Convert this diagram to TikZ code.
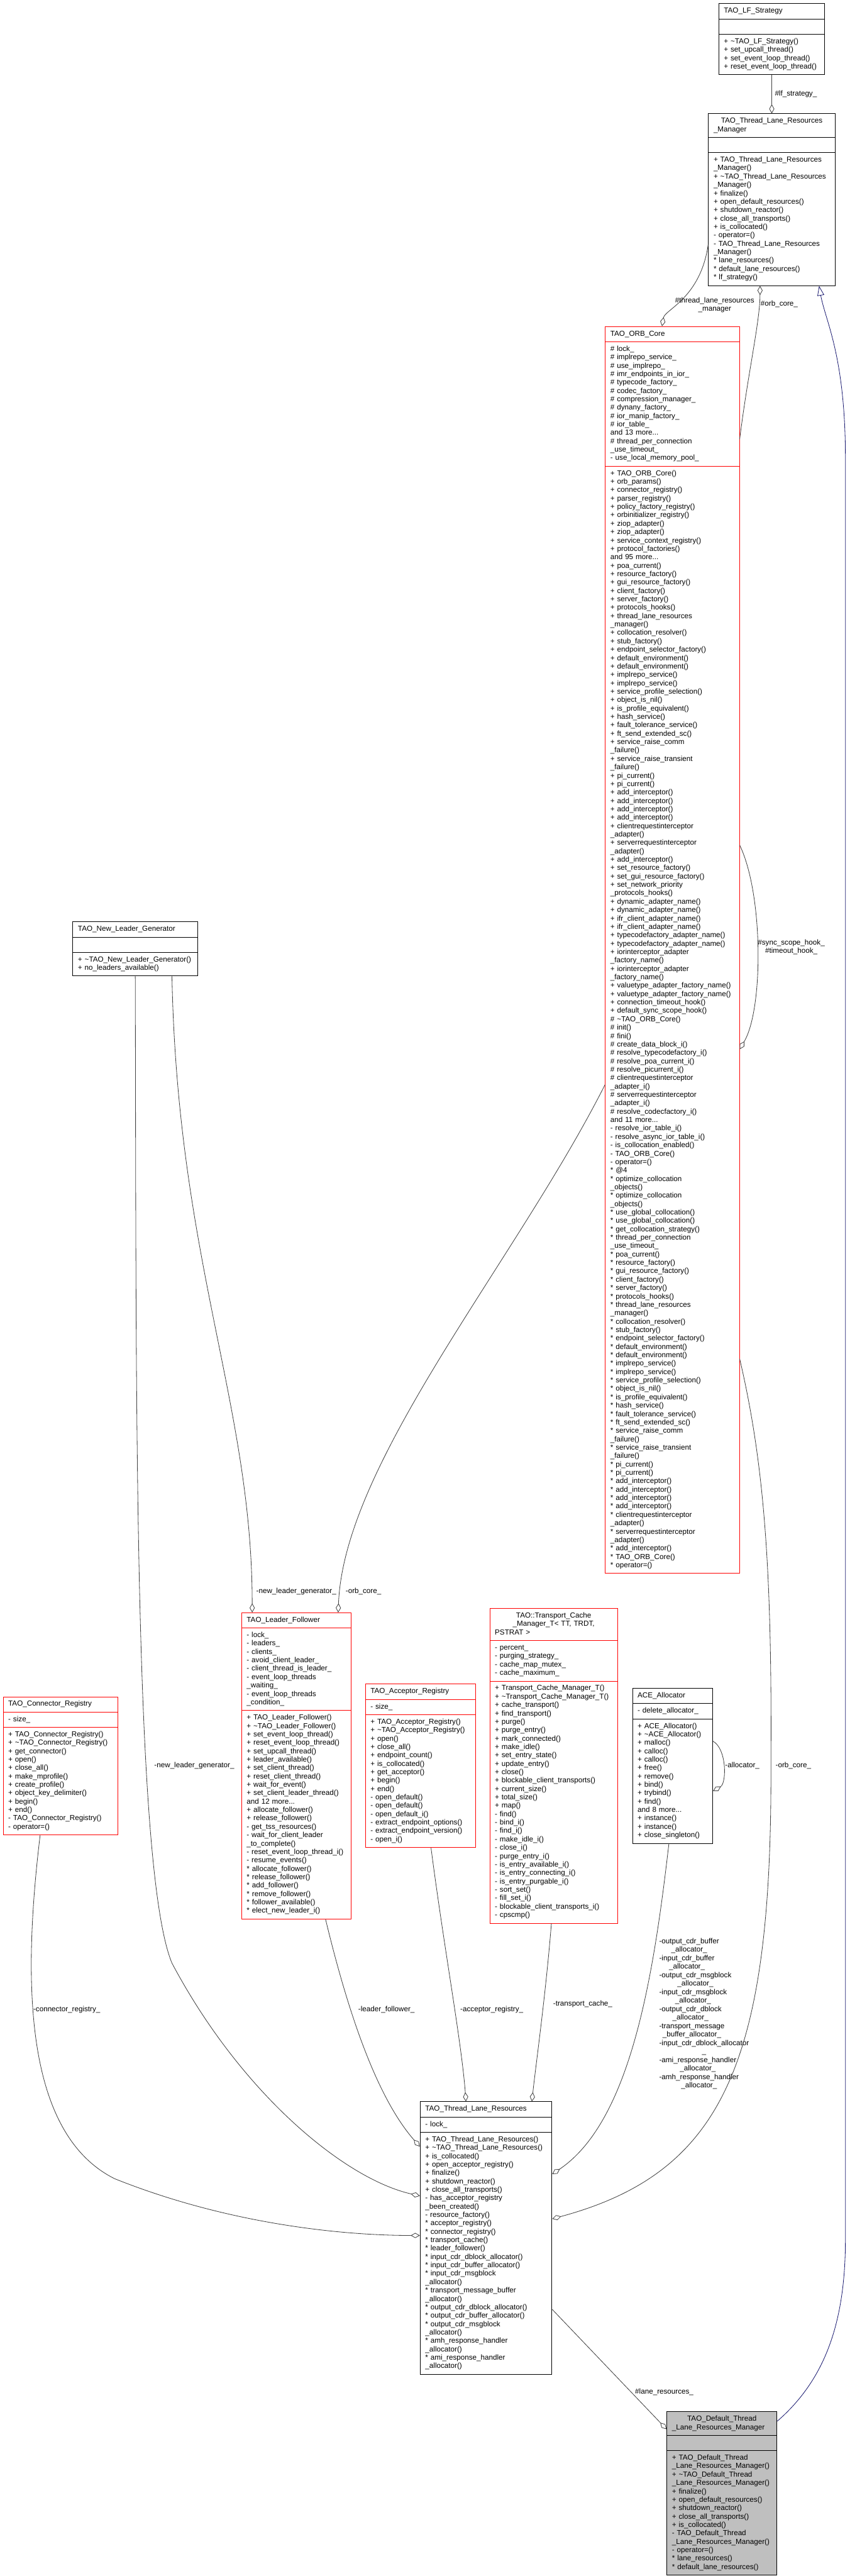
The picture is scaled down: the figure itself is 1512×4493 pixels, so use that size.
\documentclass[tikz,border=0pt]{standalone}
\usepackage{fontspec}
\setmainfont{Liberation Sans}
\usetikzlibrary{arrows.meta, positioning, shapes.multipart}

\definecolor{edgegray}{HTML}{404040}
\definecolor{inherit}{HTML}{191970}
\definecolor{basefill}{HTML}{BFBFBF}
\definecolor{incomplete}{HTML}{FF0000}
\newcommand{\umlfont}{\fontsize{12.8}{14.65}\selectfont}

\begin{document}
\begin{tikzpicture}[
    x=1pt, y=-1pt,
    cls/.style={rectangle split, rectangle split parts=3, draw=black, fill=white,
        line width=1pt, inner xsep=9pt, inner ysep=5.5pt, text width=#1,
        align=left, font=\umlfont},
    redcls/.style={cls=#1, draw=incomplete},
    basecls/.style={cls=#1, fill=basefill},
    member/.style={draw=edgegray, line width=0.9pt,
        -{Diamond[length=16pt, width=9pt, fill=white]}},
    isa/.style={draw=inherit, line width=0.9pt,
        -{Triangle[length=17pt, width=12pt, fill=white]}},
    lbl/.style={font=\umlfont, inner sep=0pt, align=center}
]
\useasboundingbox[fill=white] (0,0) rectangle (1512,4493);

% Top of the graph
\node[cls=167pt, anchor=north] (lfs) at (1346.5,6) {\centering\strut TAO\_LF\_Strategy\strut
    \nodepart{two}\strut
    \nodepart{three}\strut + \textasciitilde TAO\_LF\_Strategy()\\
    + set\_upcall\_thread()\\
    + set\_event\_loop\_thread()\\
    + reset\_event\_loop\_thread()\strut};

\node[cls=203pt, below=67pt of lfs] (tlrm) {\centering\strut TAO\_Thread\_Lane\_Resources\hspace*{19pt}\\\_Manager\strut
    \nodepart{two}\strut
    \nodepart{three}\strut + TAO\_Thread\_Lane\_Resources\\
    \_Manager()\\
    + \textasciitilde TAO\_Thread\_Lane\_Resources\\
    \_Manager()\\
    + finalize()\\
    + open\_default\_resources()\\
    + shutdown\_reactor()\\
    + close\_all\_transports()\\
    + is\_collocated()\\
    - operator=()\\
    - TAO\_Thread\_Lane\_Resources\\
    \_Manager()\\{}
    * lane\_resources()\\{}
    * default\_lane\_resources()\\{}
    * lf\_strategy()\strut};

\node[redcls=216pt, anchor=north] (orb) at (1173,569) {\centering\strut TAO\_ORB\_Core\strut
    \nodepart{two}\strut \# lock\_\\
    \# implrepo\_service\_\\
    \# use\_implrepo\_\\
    \# imr\_endpoints\_in\_ior\_\\
    \# typecode\_factory\_\\
    \# codec\_factory\_\\
    \# compression\_manager\_\\
    \# dynany\_factory\_\\
    \# ior\_manip\_factory\_\\
    \# ior\_table\_\\
    and 13 more...\\
    \# thread\_per\_connection\\
    \_use\_timeout\_\\
    - use\_local\_memory\_pool\_\strut
    \nodepart{three}\strut + TAO\_ORB\_Core()\\
    + orb\_params()\\
    + connector\_registry()\\
    + parser\_registry()\\
    + policy\_factory\_registry()\\
    + orbinitializer\_registry()\\
    + ziop\_adapter()\\
    + ziop\_adapter()\\
    + service\_context\_registry()\\
    + protocol\_factories()\\
    and 95 more...\\
    + poa\_current()\\
    + resource\_factory()\\
    + gui\_resource\_factory()\\
    + client\_factory()\\
    + server\_factory()\\
    + protocols\_hooks()\\
    + thread\_lane\_resources\\
    \_manager()\\
    + collocation\_resolver()\\
    + stub\_factory()\\
    + endpoint\_selector\_factory()\\
    + default\_environment()\\
    + default\_environment()\\
    + implrepo\_service()\\
    + implrepo\_service()\\
    + service\_profile\_selection()\\
    + object\_is\_nil()\\
    + is\_profile\_equivalent()\\
    + hash\_service()\\
    + fault\_tolerance\_service()\\
    + ft\_send\_extended\_sc()\\
    + service\_raise\_comm\\
    \_failure()\\
    + service\_raise\_transient\\
    \_failure()\\
    + pi\_current()\\
    + pi\_current()\\
    + add\_interceptor()\\
    + add\_interceptor()\\
    + add\_interceptor()\\
    + add\_interceptor()\\
    + clientrequestinterceptor\\
    \_adapter()\\
    + serverrequestinterceptor\\
    \_adapter()\\
    + add\_interceptor()\\
    + set\_resource\_factory()\\
    + set\_gui\_resource\_factory()\\
    + set\_network\_priority\\
    \_protocols\_hooks()\\
    + dynamic\_adapter\_name()\\
    + dynamic\_adapter\_name()\\
    + ifr\_client\_adapter\_name()\\
    + ifr\_client\_adapter\_name()\\
    + typecodefactory\_adapter\_name()\\
    + typecodefactory\_adapter\_name()\\
    + iorinterceptor\_adapter\\
    \_factory\_name()\\
    + iorinterceptor\_adapter\\
    \_factory\_name()\\
    + valuetype\_adapter\_factory\_name()\\
    + valuetype\_adapter\_factory\_name()\\
    + connection\_timeout\_hook()\\
    + default\_sync\_scope\_hook()\\
    \# \textasciitilde TAO\_ORB\_Core()\\
    \# init()\\
    \# fini()\\
    \# create\_data\_block\_i()\\
    \# resolve\_typecodefactory\_i()\\
    \# resolve\_poa\_current\_i()\\
    \# resolve\_picurrent\_i()\\
    \# clientrequestinterceptor\\
    \_adapter\_i()\\
    \# serverrequestinterceptor\\
    \_adapter\_i()\\
    \# resolve\_codecfactory\_i()\\
    and 11 more...\\
    - resolve\_ior\_table\_i()\\
    - resolve\_async\_ior\_table\_i()\\
    - is\_collocation\_enabled()\\
    - TAO\_ORB\_Core()\\
    - operator=()\\{}
    * @4\\{}
    * optimize\_collocation\\
    \_objects()\\{}
    * optimize\_collocation\\
    \_objects()\\{}
    * use\_global\_collocation()\\{}
    * use\_global\_collocation()\\{}
    * get\_collocation\_strategy()\\{}
    * thread\_per\_connection\\
    \_use\_timeout\_\\{}
    * poa\_current()\\{}
    * resource\_factory()\\{}
    * gui\_resource\_factory()\\{}
    * client\_factory()\\{}
    * server\_factory()\\{}
    * protocols\_hooks()\\{}
    * thread\_lane\_resources\\
    \_manager()\\{}
    * collocation\_resolver()\\{}
    * stub\_factory()\\{}
    * endpoint\_selector\_factory()\\{}
    * default\_environment()\\{}
    * default\_environment()\\{}
    * implrepo\_service()\\{}
    * implrepo\_service()\\{}
    * service\_profile\_selection()\\{}
    * object\_is\_nil()\\{}
    * is\_profile\_equivalent()\\{}
    * hash\_service()\\{}
    * fault\_tolerance\_service()\\{}
    * ft\_send\_extended\_sc()\\{}
    * service\_raise\_comm\\
    \_failure()\\{}
    * service\_raise\_transient\\
    \_failure()\\{}
    * pi\_current()\\{}
    * pi\_current()\\{}
    * add\_interceptor()\\{}
    * add\_interceptor()\\{}
    * add\_interceptor()\\{}
    * add\_interceptor()\\{}
    * clientrequestinterceptor\\
    \_adapter()\\{}
    * serverrequestinterceptor\\
    \_adapter()\\{}
    * add\_interceptor()\\{}
    * TAO\_ORB\_Core()\\{}
    * operator=()\strut};

% same rank as the ORB core, centred on its middle
\node[cls=200pt] (nlg) at (236,1655) {\centering\strut TAO\_New\_Leader\_Generator\strut
    \nodepart{two}\strut
    \nodepart{three}\strut + \textasciitilde TAO\_New\_Leader\_Generator()\\
    + no\_leaders\_available()\strut};

% Middle row, centred on one line
\node[redcls=182pt, anchor=west] (conn) at (5,3080) {\centering\strut TAO\_Connector\_Registry\strut
    \nodepart{two}\strut - size\_\strut
    \nodepart{three}\strut + TAO\_Connector\_Registry()\\
    + \textasciitilde TAO\_Connector\_Registry()\\
    + get\_connector()\\
    + open()\\
    + close\_all()\\
    + make\_mprofile()\\
    + create\_profile()\\
    + object\_key\_delimiter()\\
    + begin()\\
    + end()\\
    - TAO\_Connector\_Registry()\\
    - operator=()\strut};

\node[redcls=173pt, anchor=west] (lf) at (421,3080) {\centering\strut TAO\_Leader\_Follower\strut
    \nodepart{two}\strut - lock\_\\
    - leaders\_\\
    - clients\_\\
    - avoid\_client\_leader\_\\
    - client\_thread\_is\_leader\_\\
    - event\_loop\_threads\\
    \_waiting\_\\
    - event\_loop\_threads\\
    \_condition\_\strut
    \nodepart{three}\strut + TAO\_Leader\_Follower()\\
    + \textasciitilde TAO\_Leader\_Follower()\\
    + set\_event\_loop\_thread()\\
    + reset\_event\_loop\_thread()\\
    + set\_upcall\_thread()\\
    + leader\_available()\\
    + set\_client\_thread()\\
    + reset\_client\_thread()\\
    + wait\_for\_event()\\
    + set\_client\_leader\_thread()\\
    and 12 more...\\
    + allocate\_follower()\\
    + release\_follower()\\
    - get\_tss\_resources()\\
    - wait\_for\_client\_leader\\
    \_to\_complete()\\
    - reset\_event\_loop\_thread\_i()\\
    - resume\_events()\\{}
    * allocate\_follower()\\{}
    * release\_follower()\\{}
    * add\_follower()\\{}
    * remove\_follower()\\{}
    * follower\_available()\\{}
    * elect\_new\_leader\_i()\strut};

\node[redcls=174pt, right=24pt of lf] (acc) {\centering\strut TAO\_Acceptor\_Registry\strut
    \nodepart{two}\strut - size\_\strut
    \nodepart{three}\strut + TAO\_Acceptor\_Registry()\\
    + \textasciitilde TAO\_Acceptor\_Registry()\\
    + open()\\
    + close\_all()\\
    + endpoint\_count()\\
    + is\_collocated()\\
    + get\_acceptor()\\
    + begin()\\
    + end()\\
    - open\_default()\\
    - open\_default()\\
    - open\_default\_i()\\
    - extract\_endpoint\_options()\\
    - extract\_endpoint\_version()\\
    - open\_i()\strut};

\node[redcls=205pt, right=24pt of acc] (tcm) {\centering\strut TAO::Transport\_Cache\hspace*{62pt}\\\_Manager\_T\textless{} TT, TRDT,\hspace*{50pt}\\PSTRAT \textgreater\strut
    \nodepart{two}\strut - percent\_\\
    - purging\_strategy\_\\
    - cache\_map\_mutex\_\\
    - cache\_maximum\_\strut
    \nodepart{three}\strut + Transport\_Cache\_Manager\_T()\\
    + \textasciitilde Transport\_Cache\_Manager\_T()\\
    + cache\_transport()\\
    + find\_transport()\\
    + purge()\\
    + purge\_entry()\\
    + mark\_connected()\\
    + make\_idle()\\
    + set\_entry\_state()\\
    + update\_entry()\\
    + close()\\
    + blockable\_client\_transports()\\
    + current\_size()\\
    + total\_size()\\
    + map()\\
    - find()\\
    - bind\_i()\\
    - find\_i()\\
    - make\_idle\_i()\\
    - close\_i()\\
    - purge\_entry\_i()\\
    - is\_entry\_available\_i()\\
    - is\_entry\_connecting\_i()\\
    - is\_entry\_purgable\_i()\\
    - sort\_set()\\
    - fill\_set\_i()\\
    - blockable\_client\_transports\_i()\\
    - cpscmp()\strut};

\node[cls=122pt, right=25pt of tcm] (ace) {\centering\strut ACE\_Allocator\strut
    \nodepart{two}\strut - delete\_allocator\_\strut
    \nodepart{three}\strut + ACE\_Allocator()\\
    + \textasciitilde ACE\_Allocator()\\
    + malloc()\\
    + calloc()\\
    + calloc()\\
    + free()\\
    + remove()\\
    + bind()\\
    + trybind()\\
    + find()\\
    and 8 more...\\
    + instance()\\
    + instance()\\
    + close\_singleton()\strut};

% Bottom of the graph
\node[cls=212pt] (tlr) at (848,3903.5) {\centering\strut TAO\_Thread\_Lane\_Resources\strut
    \nodepart{two}\strut - lock\_\strut
    \nodepart{three}\strut + TAO\_Thread\_Lane\_Resources()\\
    + \textasciitilde TAO\_Thread\_Lane\_Resources()\\
    + is\_collocated()\\
    + open\_acceptor\_registry()\\
    + finalize()\\
    + shutdown\_reactor()\\
    + close\_all\_transports()\\
    - has\_acceptor\_registry\\
    \_been\_created()\\
    - resource\_factory()\\{}
    * acceptor\_registry()\\{}
    * connector\_registry()\\{}
    * transport\_cache()\\{}
    * leader\_follower()\\{}
    * input\_cdr\_dblock\_allocator()\\{}
    * input\_cdr\_buffer\_allocator()\\{}
    * input\_cdr\_msgblock\\
    \_allocator()\\{}
    * transport\_message\_buffer\\
    \_allocator()\\{}
    * output\_cdr\_dblock\_allocator()\\{}
    * output\_cdr\_buffer\_allocator()\\{}
    * output\_cdr\_msgblock\\
    \_allocator()\\{}
    * amh\_response\_handler\\
    \_allocator()\\{}
    * ami\_response\_handler\\
    \_allocator()\strut};

\node[basecls=174pt, anchor=north west] (dtlrm) at (1163,4206) {\centering\strut TAO\_Default\_Thread\hspace*{47pt}\\\_Lane\_Resources\_Manager\strut
    \nodepart{two}\strut
    \nodepart{three}\strut + TAO\_Default\_Thread\\
    \_Lane\_Resources\_Manager()\\
    + \textasciitilde TAO\_Default\_Thread\\
    \_Lane\_Resources\_Manager()\\
    + finalize()\\
    + open\_default\_resources()\\
    + shutdown\_reactor()\\
    + close\_all\_transports()\\
    + is\_collocated()\\
    - TAO\_Default\_Thread\\
    \_Lane\_Resources\_Manager()\\
    - operator=()\\{}
    * lane\_resources()\\{}
    * default\_lane\_resources()\strut};

% Members between the upper classes
\draw[member] (lfs) -- node[lbl, right=5pt] {\#lf\_strategy\_} (tlrm);
\draw[member] (tlrm.west |- 0,427) .. controls (1222,520) and (1160,540) .. (orb.north -| 1155,0);
\node[lbl] (l-tlrm) at (1247,532) {\#thread\_lane\_resources\\\_manager};
\draw[member] (orb.east |- 0,766) .. controls (1305,650) and (1326,560) .. (tlrm.south -| 1326,0);
\node[lbl, anchor=west] (l-orb1) at (1327,530) {\#orb\_core\_};
\draw[member] (orb.east |- 0,1474) .. controls (1332,1560) and (1332,1760) .. (orb.east |- 0,1830);
\node[lbl, anchor=west] (l-hook) at (1322,1652) {\#sync\_scope\_hook\_\\\#timeout\_hook\_};

% Members of the leader follower
\draw[member] (orb.west |- 0,1892) .. controls (900,2200) and (600,2550) .. (lf.north -| 590,0);
\node[lbl, anchor=west] (l-orb2) at (603,2776) {-orb\_core\_};
\draw[member] (nlg.south -| 300,0) .. controls (310,2200) and (440,2450) .. (lf.north -| 440,0);
\node[lbl, anchor=west] (l-nlg1) at (447,2776) {-new\_leader\_generator\_};

% Members of the thread lane resources
\draw[member] (nlg.south -| 236,0) .. controls (238,2400) and (232,3260) .. (300,3424)
    .. controls (420,3650) and (600,3800) .. (tlr.west |- 0,3830);
\node[lbl] (l-nlg2) at (339,3080) {-new\_leader\_generator\_};
\draw[member] (conn.south -| 70,0) .. controls (40,3450) and (40,3720) .. (200,3800)
    .. controls (400,3880) and (600,3899) .. (tlr.west |- 0,3899);
\node[lbl, anchor=west] (l-conn) at (58,3505) {-connector\_registry\_};
\draw[member] (lf.south -| 568,0) .. controls (600,3480) and (650,3650) .. (tlr.west |- 0,3744);
\node[lbl, anchor=west] (l-lf) at (625,3505) {-leader\_follower\_};
\draw[member] (acc.south -| 752,0) .. controls (775,3400) and (805,3560) .. (tlr.north -| 813,0);
\node[lbl, anchor=west] (l-acc) at (803,3505) {-acceptor\_registry\_};
\draw[member] (tcm.south -| 962,0) .. controls (952,3480) and (935,3600) .. (tlr.north -| 928,0);
\node[lbl, anchor=west] (l-tcm) at (965,3495) {-transport\_cache\_};
\draw[member] (ace.south -| 1167,0) .. controls (1140,3450) and (1100,3700) .. (tlr.east |- 0,3792);
\node[lbl, anchor=north west] (a1) at (1150,3379) {\strut-output\_cdr\_buffer\\\_allocator\_\strut};
\node[lbl, below=0pt of a1.south west, anchor=north west] (a2) {\strut-input\_cdr\_buffer\\\_allocator\_\strut};
\node[lbl, below=0pt of a2.south west, anchor=north west] (a3) {\strut-output\_cdr\_msgblock\\\_allocator\_\strut};
\node[lbl, below=0pt of a3.south west, anchor=north west] (a4) {\strut-input\_cdr\_msgblock\\\_allocator\_\strut};
\node[lbl, below=0pt of a4.south west, anchor=north west] (a5) {\strut-output\_cdr\_dblock\\\_allocator\_\strut};
\node[lbl, below=0pt of a5.south west, anchor=north west] (a6) {\strut-transport\_message\\\_buffer\_allocator\_\strut};
\node[lbl, below=0pt of a6.south west, anchor=north west] (a7) {\strut-input\_cdr\_dblock\_allocator\\\_\strut};
\node[lbl, below=0pt of a7.south west, anchor=north west] (a8) {\strut-ami\_response\_handler\\\_allocator\_\strut};
\node[lbl, below=0pt of a8.south west, anchor=north west] (a9) {\strut-amh\_response\_handler\\\_allocator\_\strut};
\draw[member] (ace.east |- 0,3037) .. controls (1268,3050) and (1268,3110) .. (ace.east |- 0,3124);
\node[lbl, anchor=west] (l-alloc) at (1265,3080) {-allocator\_};
\draw[member] (orb.east |- 0,2370) .. controls (1335,2560) and (1347,2750) .. (1345,3080)
    .. controls (1347,3600) and (1260,3790) .. (tlr.east |- 0,3870);
\node[lbl, anchor=west] (l-orb3) at (1353,3080) {-orb\_core\_};

% Lane resources and the base class
\draw[member] (tlr.east |- 0,4028) -- (dtlrm.west |- 0,4237);
\node[lbl] (l-lane) at (1159,4172) {\#lane\_resources\_};
\draw[isa] (dtlrm.east |- 0,4223) .. controls (1440,4150) and (1475,4050) .. (1475,3905)
    -- (1475,800) .. controls (1475,620) and (1440,560) .. (tlrm.south -| 1429,0);

\end{tikzpicture}
\end{document}
